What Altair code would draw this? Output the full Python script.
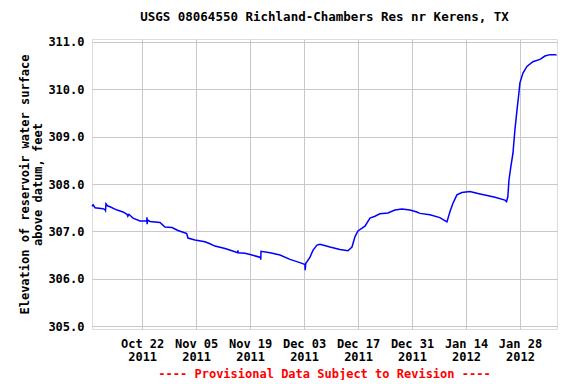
import altair as alt
import pandas as pd

# Reservoir elevation readings (ft)
dates = [
    "2011-10-09T00:00", "2011-10-09T07:00", "2011-10-09T19:00", "2011-10-11T20:00",
    "2011-10-12T09:00", "2011-10-12T12:00", "2011-10-12T15:00", "2011-10-13T00:00",
    "2011-10-13T16:00", "2011-10-15T12:00", "2011-10-17T01:00", "2011-10-18T02:00",
    "2011-10-18T07:00", "2011-10-18T14:00", "2011-10-19T15:00", "2011-10-21T11:00",
    "2011-10-23T05:00", "2011-10-23T06:00", "2011-10-23T07:00", "2011-10-23T10:00",
    "2011-10-24T01:00", "2011-10-26T15:00", "2011-10-27T22:00", "2011-10-29T18:00",
    "2011-10-31T07:00", "2011-11-02T09:00", "2011-11-02T14:00", "2011-11-02T21:00",
    "2011-11-04T17:00", "2011-11-07T07:00", "2011-11-08T14:00", "2011-11-09T21:00",
    "2011-11-12T12:00", "2011-11-14T07:00", "2011-11-15T19:00", "2011-11-15T20:00",
    "2011-11-15T22:00", "2011-11-17T16:00", "2011-11-19T12:00", "2011-11-21T17:00",
    "2011-11-21T18:00", "2011-11-21T20:00", "2011-11-24T04:00", "2011-11-26T18:00",
    "2011-11-29T08:00", "2011-12-01T22:00", "2011-12-02T23:00", "2011-12-03T05:00",
    "2011-12-03T07:00", "2011-12-03T10:00", "2011-12-04T12:00", "2011-12-05T07:00",
    "2011-12-06T08:00", "2011-12-07T03:00", "2011-12-09T17:00", "2011-12-12T07:00",
    "2011-12-14T09:00", "2011-12-15T10:00", "2011-12-16T05:00", "2011-12-16T23:00",
    "2011-12-18T19:00", "2011-12-20T02:00", "2011-12-21T09:00", "2011-12-22T16:00",
    "2011-12-24T18:00", "2011-12-26T13:00", "2011-12-28T09:00", "2011-12-30T11:00",
    "2012-01-01T06:00", "2012-01-02T01:00", "2012-01-04T15:00", "2012-01-07T05:00",
    "2012-01-09T01:00", "2012-01-09T20:00", "2012-01-10T14:00", "2012-01-11T15:00",
    "2012-01-12T22:00", "2012-01-15T00:00", "2012-01-17T02:00", "2012-01-18T21:00",
    "2012-01-21T12:00", "2012-01-24T02:00", "2012-01-24T12:00", "2012-01-24T20:00",
    "2012-01-25T03:00", "2012-01-25T15:00", "2012-01-26T04:00", "2012-01-26T16:00",
    "2012-01-27T05:00", "2012-01-27T17:00", "2012-01-27T23:00", "2012-01-28T18:00",
    "2012-01-29T19:00", "2012-01-31T08:00", "2012-02-02T04:00", "2012-02-03T11:00",
    "2012-02-04T18:00", "2012-02-06T01:00", "2012-02-06T12:00",
]
elevation = [
    307.53, 307.56, 307.50, 307.48,
    307.46, 307.44, 307.58, 307.54,
    307.52, 307.45, 307.41, 307.36,
    307.32, 307.36, 307.28, 307.22,
    307.22, 307.30, 307.15, 307.24,
    307.21, 307.19, 307.09, 307.08,
    307.02, 306.96, 306.95, 306.86,
    306.82, 306.78, 306.74, 306.69,
    306.64, 306.59, 306.55, 306.60,
    306.55, 306.54, 306.50, 306.45,
    306.40, 306.58, 306.55, 306.50,
    306.41, 306.34, 306.31, 306.30,
    306.18, 306.32, 306.45, 306.60,
    306.71, 306.73, 306.67, 306.62,
    306.59, 306.67, 306.89, 307.01,
    307.11, 307.28, 307.32, 307.37,
    307.39, 307.45, 307.47, 307.45,
    307.41, 307.38, 307.35, 307.29,
    307.20, 307.42, 307.59, 307.77,
    307.82, 307.84, 307.80, 307.77,
    307.72, 307.66, 307.63, 307.73,
    308.08, 308.37, 308.65, 309.14,
    309.56, 309.92, 310.13, 310.34,
    310.48, 310.58, 310.63, 310.70,
    310.73, 310.73, 310.72,
]

x_ticks = ["2011-10-22", "2011-11-05", "2011-11-19", "2011-12-03",
           "2011-12-17", "2011-12-31", "2012-01-14", "2012-01-28"]
y_ticks = [305, 306, 307, 308, 309, 310, 311]

title_text = "USGS 08064550 Richland-Chambers Res nr Kerens, TX"
footer_text = "---- Provisional Data Subject to Revision ----"
y_title = ["Elevation of reservoir water surface", "above datum, feet"]

df = pd.DataFrame({"date": [d + "Z" for d in dates], "elev": elevation})

FONT = "DejaVu Sans Mono"
W, H = 465, 290

x_enc = alt.X(
    "date:T",
    scale=alt.Scale(type="utc",
                    domain=[alt.DateTime(year=2011, month=10, date=9, utc=True),
                            alt.DateTime(year=2012, month=2, date=6, hours=14, utc=True)]),
    axis=alt.Axis(
        values=[alt.DateTime(year=int(t[:4]), month=int(t[5:7]), date=int(t[8:]), utc=True) for t in x_ticks],
        labelExpr="[utcFormat(datum.value, '%b %d'), utcFormat(datum.value, '%Y')]",
        title=None, ticks=False, labelPadding=9, labelLineHeight=13,
        labelFont=FONT, labelFontWeight="bold", labelFontSize=12, labelColor="black",
        gridColor="#c8c8c8", gridWidth=1, domain=False,
    ),
)
y_enc = alt.Y(
    "elev:Q",
    scale=alt.Scale(domain=[304.94, 311.06], nice=False, zero=False),
    axis=alt.Axis(
        values=y_ticks, format=".1f", title=y_title, ticks=False, labelPadding=8,
        labelFont=FONT, labelFontWeight="bold", labelFontSize=12, labelColor="black",
        titleFont=FONT, titleFontWeight="bold", titleFontSize=12, titleColor="black",
        titlePadding=3, titleLineHeight=13,
        gridColor="#c8c8c8", gridWidth=1, domain=False,
    ),
)

line = alt.Chart(df).mark_line(color="#0000ff", strokeWidth=1.5).encode(
    x=x_enc, y=y_enc
)

footer = alt.Chart(pd.DataFrame({"t": [footer_text]})).mark_text(
    font=FONT, fontWeight="bold", fontSize=12, color="#ff0000", baseline="middle", align="center"
).encode(text="t:N", x=alt.value(W / 2), y=alt.value(H + 45))

chart = alt.layer(line, footer).properties(
    width=W, height=H,
    title=alt.TitleParams(title_text, font=FONT, fontWeight="bold", fontSize=12.5,
                          color="black", anchor="middle", offset=12),
    padding={"left": 84, "top": 31, "right": 11, "bottom": 51},
    autosize=alt.AutoSizeParams(type="none"),
).configure_view(stroke="black", strokeWidth=1.5).configure(background="white")

chart.save("out.html", embed_options={"renderer": "svg", "actions": False})
